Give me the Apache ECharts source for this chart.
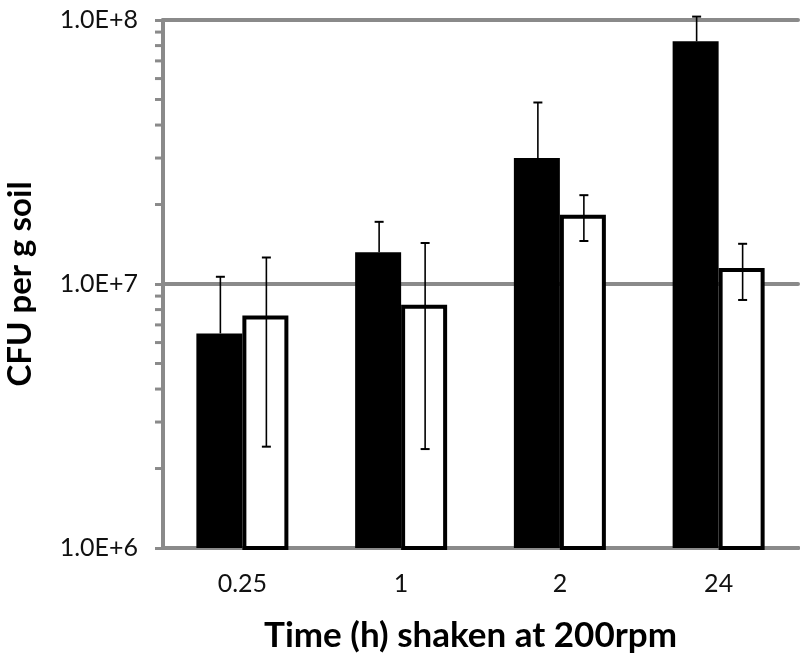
<!DOCTYPE html>
<html>
<head>
<meta charset="utf-8">
<script src="https://cdn.jsdelivr.net/npm/echarts@6/dist/echarts.min.js"></script>
<style>html,body{margin:0;padding:0;background:#fff;}#c{width:802px;height:655px;}</style>
</head>
<body>
<div id="c"></div>
<script>
const categories = ['0.25', '1', '2', '24'];
const blackMeans = [6.5e6, 1.32e7, 3.0e7, 8.3e7];
const blackErrHigh = [1.065e7, 1.72e7, 4.87e7, 1.03e8];
const whiteMeans = [7.6e6, 8.35e6, 1.83e7, 1.15e7];
const whiteErrHigh = [1.26e7, 1.43e7, 2.17e7, 1.42e7];
const whiteErrLow = [2.42e6, 2.37e6, 1.455e7, 8.7e6];
const minorTickValues = [2e6,3e6,4e6,5e6,6e6,7e6,8e6,9e6,2e7,3e7,4e7,5e7,6e7,7e7,8e7,9e7];
const yTitle = 'CFU per g soil';
const xTitle = 'Time (h) shaken at 200rpm';

const GRAY = '#8a8a8a';
const FONT = 'Lato';

function errRender(offset, withLow) {
  return function (params, api) {
    const i = api.value(0);
    const hi = api.coord([i, api.value(1)]);
    const lo = api.coord([i, api.value(2)]);
    const x = hi[0] + offset;
    const children = [
      {type: 'line', shape: {x1: x, y1: hi[1], x2: x, y2: lo[1]}, style: {stroke: '#000', lineWidth: 1.6}},
      {type: 'line', shape: {x1: x - 4.5, y1: hi[1], x2: x + 4.5, y2: hi[1]}, style: {stroke: '#000', lineWidth: 2}}
    ];
    if (withLow) children.push({type: 'line', shape: {x1: x - 4.5, y1: lo[1], x2: x + 4.5, y2: lo[1]}, style: {stroke: '#000', lineWidth: 2}});
    return {type: 'group', children: children};
  };
}

const chart = echarts.init(document.getElementById('c'), null, {renderer: 'canvas'});
chart.setOption({
  animation: false,
  backgroundColor: '#fff',
  grid: {left: 163, right: 4, top: 20, bottom: 107, containLabel: false, outerBoundsMode: 'none'},
  xAxis: {
    type: 'category',
    data: categories,
    axisLine: {lineStyle: {color: GRAY, width: 4}},
    axisTick: {show: false},
    axisLabel: {color: '#111', fontFamily: FONT, fontSize: 25, margin: 23},
    name: xTitle,
    nameLocation: 'middle',
    nameGap: 70,
    nameTextStyle: {color: '#000', fontFamily: FONT, fontWeight: 'bold', fontSize: 35, padding: [0, 20, 0, 0]}
  },
  yAxis: {
    type: 'log',
    logBase: 10,
    min: 1e6,
    max: 1e8,
    axisLine: {show: true, lineStyle: {color: GRAY, width: 4}},
    axisTick: {show: true, length: 8, lineStyle: {color: GRAY, width: 3}},
    splitLine: {show: true, lineStyle: {color: GRAY, width: 4, cap: 'round'}},
    axisLabel: {
      color: '#111', fontFamily: FONT, fontSize: 25, margin: 25,
      formatter: v => '1.0E+' + Math.round(Math.log10(v))
    },
    name: yTitle,
    nameLocation: 'middle',
    nameGap: 126,
    nameTextStyle: {color: '#000', fontFamily: FONT, fontWeight: 'bold', fontSize: 33}
  },
  series: [
    {
      type: 'bar', data: blackMeans, barWidth: 46, barGap: '0%',
      itemStyle: {color: '#000'}, z: 3
    },
    {
      type: 'bar', data: whiteMeans, barWidth: 46, barGap: '0%',
      itemStyle: {color: '#fff', borderColor: '#000', borderWidth: 4}, z: 3
    },
    {
      type: 'custom', z: 5, silent: true,
      renderItem: errRender(-22, false),
      data: categories.map((c, i) => [i, blackErrHigh[i], blackMeans[i]])
    },
    {
      type: 'custom', z: 5, silent: true,
      renderItem: errRender(24, true),
      data: categories.map((c, i) => [i, whiteErrHigh[i], whiteErrLow[i]])
    },
    {
      type: 'custom', z: 4, silent: true,
      renderItem: function (params, api) {
        const p = api.coord([0, api.value(1)]);
        const x0 = params.coordSys.x;
        return {type: 'line', shape: {x1: x0 - 8, y1: p[1], x2: x0, y2: p[1]}, style: {stroke: GRAY, lineWidth: 3}};
      },
      data: minorTickValues.map(v => [0, v])
    }
  ]
});
</script>
</body>
</html>
